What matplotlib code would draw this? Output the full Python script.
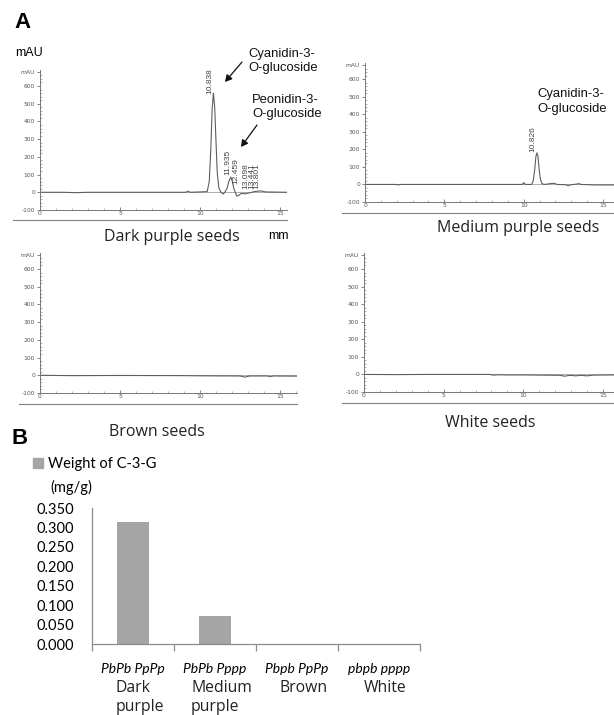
import matplotlib
matplotlib.use("Agg")
import matplotlib.pyplot as plt
from matplotlib.ticker import MultipleLocator
from matplotlib.lines import Line2D
from matplotlib.patches import Patch, FancyArrowPatch
from matplotlib.transforms import blended_transform_factory

W, H = 614, 715

# HPLC traces: retention time (min) and signal (mAU)
dark_t = [0, 1.5, 2.2, 3, 5, 7, 8.5, 9.1, 9.25, 9.4, 10.0, 10.45, 10.58, 10.68, 10.76, 10.84,
          10.92, 11.0, 11.08, 11.18, 11.3, 11.45, 11.55, 11.7, 11.82, 11.93, 12.02, 12.12,
          12.3, 12.45, 12.6, 12.8, 13.1, 13.4, 13.8, 14.1, 15.5]
dark_mau = [0, 0, -2, 0, 0, 0, 0, 0, 6, 0, 2, 4, 60, 250, 470, 560, 480, 290, 110, 25, 2,
            -10, 0, 25, 65, 86, 62, 20, -22, -15, -6, -9, -3, 4, 8, 2, 0]

med_t = [0, 2.0, 2.1, 2.2, 5, 8, 9.9, 10.0, 10.1, 10.5, 10.6, 10.7, 10.77, 10.83, 10.9,
         10.97, 11.05, 11.15, 11.3, 11.8, 11.95, 12.1, 12.7, 12.8, 12.9, 13.4, 13.5, 13.6,
         14.5, 15.7]
med_mau = [0, 0, -3, 0, 0, 0, 0, 10, 0, 0, 20, 90, 160, 180, 160, 90, 30, 5, 0, 6, 6, 0,
           -2, -8, -3, 3, 5, 0, -3, -3]

brown_t = [0, 2, 5, 9, 10, 12.5, 12.8, 13.1, 14.2, 14.4, 14.6, 16.1]
brown_mau = [0, -2, -1, -2, -3, -4, -10, -4, -4, -7, -4, -5]

white_t = [0, 2, 4, 7.9, 8.1, 8.4, 9, 10, 12.3, 12.6, 12.9, 13.3, 13.6, 14, 14.4, 15.7]
white_mau = [0, -1, 0, 0, -4, -2, -3, -3, -5, -10, -5, -8, -5, -8, -4, -3]

# retention time labels printed over the dark purple peaks
dark_peak_labels = ["10.838", "11.935", "12.459", "13.098", "13.441", "13.801"]
dark_peak_base = [555, 100, 45, 20, 20, 20]
med_peak_labels = ["10.826"]
med_peak_base = [185]

# panel B
genotypes = ["PbPb PpPp", "PbPb Pppp", "Pbpb PpPp", "pbpb pppp"]
seed_names = ["Dark\npurple", "Medium\npurple", "Brown", "White"]
c3g_weight = [0.315, 0.072, 0.0, 0.0]
b_ticks = [0.000, 0.050, 0.100, 0.150, 0.200, 0.250, 0.300, 0.350]

ARIAL = "Liberation Sans"
TITLE_FONT = "Open Sans"
BAR_FONT = "Lato"


def px_rect(l, t, r, b):
    return [l / W, 1 - b / H, (r - l) / W, (b - t) / H]


def fx(x):
    return x / W


def fy(y):
    return 1 - y / H


fig = plt.figure(figsize=(W / 100, H / 100), dpi=100)

# ---- panel A: four chromatograms ----
panels = [
    # rect (l, t, r, b), xmax, trace, title, title centre, frame line (x0, x1, y)
    ((40, 70.1, 287, 210), 15.44, (dark_t, dark_mau), "Dark purple seeds", (172, 237), (13, 287, 220)),
    ((365, 63.3, 614, 202), 15.69, (med_t, med_mau), "Medium purple seeds", (518, 228), (342, 614, 213)),
    ((40, 253.1, 297, 393), 16.06, (brown_t, brown_mau), "Brown seeds", (157, 432), (19, 297, 404)),
    ((364, 253.2, 614, 392), 15.69, (white_t, white_mau), "White seeds", (490, 423), (342, 614, 403)),
]

axes = []
for rect, xmax, (t, mau), title, (cx, cy), (lx0, lx1, ly) in panels:
    ax = fig.add_axes(px_rect(*rect))
    ax.axhline(0, color="#a0a0a0", lw=0.6)
    ax.plot(t, mau, color="#5e5e5e", lw=0.8)
    ax.set_xlim(0, xmax)
    ax.set_ylim(-100, 690)
    for s in ["top", "right"]:
        ax.spines[s].set_visible(False)
    for s in ["left", "bottom"]:
        ax.spines[s].set_color("#777777")
        ax.spines[s].set_linewidth(0.7)
    yt = list(range(-100, 700, 100))
    ax.set_yticks(yt + [680])
    ax.set_yticklabels([str(v) for v in yt] + ["mAU"])
    ax.yaxis.set_minor_locator(MultipleLocator(20))
    ax.set_xticks([0, 5, 10, 15])
    ax.xaxis.set_minor_locator(MultipleLocator(1))
    ax.tick_params(axis="y", which="major", direction="out", length=2.5, width=0.5,
                   labelsize=4.3, colors="#555555", pad=1)
    ax.tick_params(axis="y", which="minor", direction="in", length=1.5, width=0.4,
                   colors="#777777")
    ax.tick_params(axis="x", which="major", direction="in", length=2, width=0.5,
                   labelsize=4.3, colors="#555555", pad=1)
    ax.tick_params(axis="x", which="minor", direction="in", length=1.2, width=0.4,
                   colors="#777777")
    fig.add_artist(Line2D([fx(lx0), fx(lx1)], [fy(ly), fy(ly)], color="#808080", lw=0.8))
    fig.text(fx(cx), fy(cy), title, ha="center", va="center", fontsize=11.5,
             family=TITLE_FONT, color="#222222")
    axes.append(ax)

for lab, base in zip(dark_peak_labels, dark_peak_base):
    axes[0].text(float(lab), base, lab, rotation=90, ha="right", va="bottom",
                 fontsize=6, family=ARIAL, color="#444444")
for lab, base in zip(med_peak_labels, med_peak_base):
    axes[1].text(float(lab), base, lab, rotation=90, ha="right", va="bottom",
                 fontsize=6, family=ARIAL, color="#444444")

fig.text(fx(15), fy(53), "mAU", ha="left", va="center", fontsize=9, family=ARIAL)
fig.text(fx(268), fy(236), "mm", ha="left", va="center", fontsize=9, family=ARIAL)

# compound annotations with arrows
for txt, (tx, ty) in [("Cyanidin-3-\nO-glucoside", (248, 61)),
                      ("Peonidin-3-\nO-glucoside", (252, 107)),
                      ("Cyanidin-3-\nO-glucoside", (537, 101.5))]:
    fig.text(fx(tx), fy(ty), txt, ha="left", va="center", fontsize=9.4, family=ARIAL,
             linespacing=1.25, color="#111111")
for tail, tip in [((242, 62), (225, 82)), ((257, 125), (241, 147))]:
    fig.add_artist(FancyArrowPatch(
        (fx(tail[0]), fy(tail[1])), (fx(tip[0]), fy(tip[1])), transform=fig.transFigure,
        arrowstyle="-|>,head_length=4,head_width=2.2", color="#111111", lw=0.9,
        shrinkA=0, shrinkB=0))

fig.text(fx(14), fy(22), "A", ha="left", va="center", fontsize=16, weight="bold", family=ARIAL)
fig.text(fx(12), fy(438), "B", ha="left", va="center", fontsize=16, weight="bold", family=ARIAL)

# ---- panel B: bar chart ----
axb = fig.add_axes(px_rect(92, 508, 420, 644))
axb.bar(range(len(c3g_weight)), c3g_weight, width=0.4, color="#a5a5a5")
axb.set_xlim(-0.5, 3.5)
axb.set_ylim(0, 0.35)
axb.set_yticks(b_ticks)
axb.set_yticklabels(["%.3f" % v for v in b_ticks])
for s in ["top", "right"]:
    axb.spines[s].set_visible(False)
for s in ["left", "bottom"]:
    axb.spines[s].set_color("#8c8c8c")
    axb.spines[s].set_linewidth(0.9)
axb.tick_params(axis="y", length=0, pad=13, labelsize=10.5)
for lab in axb.get_yticklabels():
    lab.set_family(BAR_FONT)
axb.set_xticks(range(len(genotypes)))
axb.set_xticklabels(genotypes, style="italic", family=BAR_FONT, fontsize=10)
axb.set_xticks([-0.5, 0.5, 1.5, 2.5, 3.5], minor=True)
axb.tick_params(axis="x", which="major", length=0, pad=14)
axb.tick_params(axis="x", which="minor", length=5, width=0.9, color="#8c8c8c", direction="out")

tr = blended_transform_factory(axb.transData, fig.transFigure)
for i, name in enumerate(seed_names):
    axb.text(i + 0.08, fy(680), name, transform=tr, ha="center", va="top",
             multialignment="left", fontsize=11.3, family=TITLE_FONT, linespacing=1.25,
             color="#222222")

fig.legend(handles=[Patch(color="#a5a5a5")], labels=["Weight of C-3-G"],
           loc="center left", bbox_to_anchor=(fx(33), fy(464)), frameon=False,
           handlelength=0.7, handleheight=0.7, handletextpad=0.35, borderpad=0,
           borderaxespad=0, prop={"family": BAR_FONT, "size": 10.5})
fig.text(fx(50), fy(487), "(mg/g)", ha="left", va="center", fontsize=10.5, family=BAR_FONT)

fig.savefig("out.png", dpi=100)
